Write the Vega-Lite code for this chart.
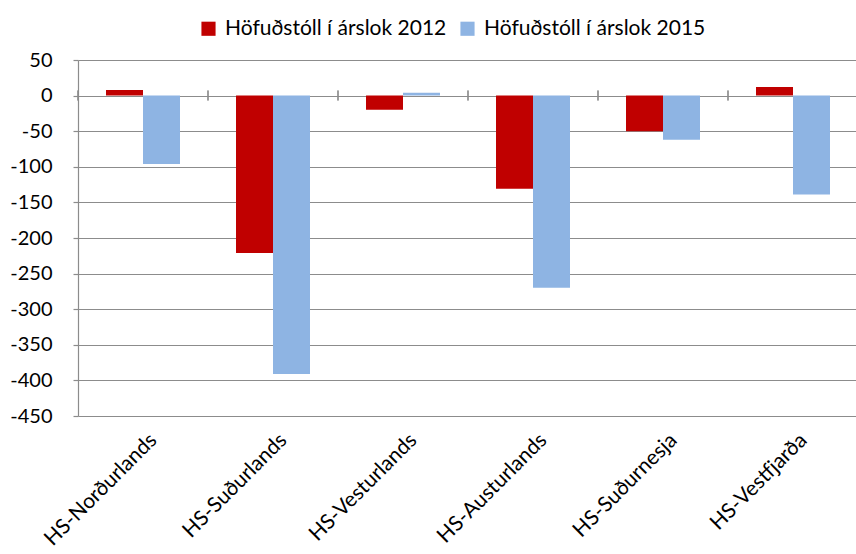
{
  "$schema": "https://vega.github.io/schema/vega-lite/v6.json",
  "width": 780,
  "height": 356,
  "autosize": {"type": "none"},
  "padding": {"left": 78, "top": 60, "right": 0, "bottom": 138},
  "background": "white",
  "config": {
    "font": "Lato",
    "view": {"stroke": null},
    "axis": {"labelFont": "Lato", "labelFontSize": 20, "labelColor": "#000000"}
  },
  "data": {
    "values": [
      {"region": "HS-Norðurlands", "series": "Höfuðstóll í árslok 2012", "value": 8},
      {"region": "HS-Norðurlands", "series": "Höfuðstóll í árslok 2015", "value": -96},
      {"region": "HS-Suðurlands", "series": "Höfuðstóll í árslok 2012", "value": -221},
      {"region": "HS-Suðurlands", "series": "Höfuðstóll í árslok 2015", "value": -391},
      {"region": "HS-Vesturlands", "series": "Höfuðstóll í árslok 2012", "value": -20},
      {"region": "HS-Vesturlands", "series": "Höfuðstóll í árslok 2015", "value": 4},
      {"region": "HS-Austurlands", "series": "Höfuðstóll í árslok 2012", "value": -131},
      {"region": "HS-Austurlands", "series": "Höfuðstóll í árslok 2015", "value": -270},
      {"region": "HS-Suðurnesja", "series": "Höfuðstóll í árslok 2012", "value": -50},
      {"region": "HS-Suðurnesja", "series": "Höfuðstóll í árslok 2015", "value": -62},
      {"region": "HS-Vestfjarða", "series": "Höfuðstóll í árslok 2012", "value": 12},
      {"region": "HS-Vestfjarða", "series": "Höfuðstóll í árslok 2015", "value": -139}
    ]
  },
  "layer": [
    {
      "mark": {"type": "bar"},
      "encoding": {
        "x": {
          "field": "region", "type": "nominal", "sort": null,
          "scale": {"paddingInner": 0, "paddingOuter": 0},
          "axis": {"title": null, "labelAngle": -45, "domain": false, "ticks": false, "grid": false, "labelPadding": 13, "labelOffset": 3, "labelLimit": 300, "labelFontSize": 21}
        },
        "xOffset": {
          "field": "series", "type": "nominal",
          "scale": {"paddingInner": 0, "paddingOuter": 0.757}
        },
        "y": {
          "field": "value", "type": "quantitative",
          "scale": {"domain": [-450, 50], "nice": false, "zero": false},
          "axis": {
            "title": null,
            "values": [-450, -400, -350, -300, -250, -200, -150, -100, -50, 0, 50],
            "tickCount": 30,
            "labelExpr": "'' + datum.value",
            "labelOverlap": false,
            "grid": true, "gridColor": "#8c8c8c", "gridWidth": 1.2,
            "ticks": true, "tickSize": 5, "tickColor": "#8c8c8c", "tickWidth": 1.2,
            "domain": true, "domainColor": "#8c8c8c", "domainWidth": 1.2,
            "labelPadding": 21
          }
        },
        "color": {
          "field": "series", "type": "nominal",
          "scale": {"domain": ["Höfuðstóll í árslok 2012", "Höfuðstóll í árslok 2015"], "range": ["#C00000", "#8EB4E3"]},
          "legend": {
            "title": null, "orient": "none", "direction": "horizontal",
            "legendX": 120, "legendY": -42,
            "symbolType": "square", "symbolSize": 200, "symbolStrokeWidth": 0,
            "labelFontSize": 21, "labelFont": "Lato", "labelColor": "#000000",
            "labelOffset": 6, "columnPadding": 10, "labelLimit": 400
          }
        }
      }
    },
    {
      "mark": {"type": "rule", "color": "#8c8c8c", "strokeWidth": 1.2},
      "encoding": {
        "x": {"field": "region", "type": "nominal", "sort": null, "bandPosition": 0},
        "y": {"datum": -7},
        "y2": {"datum": 7}
      }
    }
  ]
}
